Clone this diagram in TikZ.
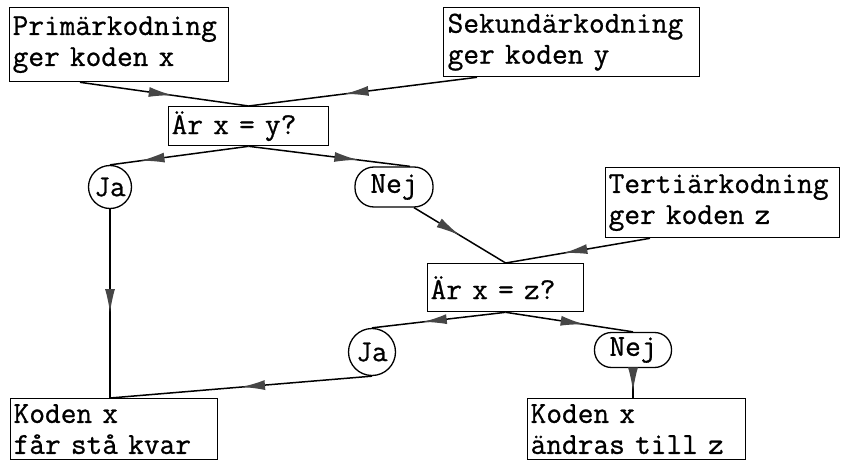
\documentclass[tikz,border=0pt]{standalone}
\usepackage{fontspec}
\setmonofont{Latin Modern Mono}[UprightFeatures={FakeBold=0.8}]
\usetikzlibrary{calc,arrows.meta,decorations.markings}
\begin{document}
\begin{tikzpicture}[x=1pt,y=-1pt,
  font=\fontsize{30.5}{31}\selectfont\ttfamily,
  box/.style={draw, line width=1.3pt, anchor=north west, inner xsep=3pt, inner ysep=0pt, align=left},
  ans/.style={draw, line width=1.3pt, circle, inner sep=0pt},
  nej/.style={draw, line width=1.3pt, rectangle, inner sep=0pt},
  conn/.style={line width=1.5pt, postaction={decorate},
    decoration={markings, mark=at position #1 with {\arrow[gray!55!black]{Latex[length=24pt,width=10pt]}}}}
]
\fill[white] (0,0) rectangle (841,460);
\useasboundingbox (0,0) rectangle (841,460);

\node[box, text width=213pt, minimum height=74pt] (P) at (9,7) {Primärkodning\\ger koden x};
\node[box, text width=248pt, minimum height=69pt, inner xsep=4pt] (S) at (443,7) {Sekundärkodning\\ger koden y};
\node[box, text width=154pt, minimum height=39pt] (Q1) at (168,106) {Är x = y?};
\node[ans, minimum size=43pt] (J1) at (110,187) {Ja};
\node[nej, rounded corners=19pt, minimum width=78pt, minimum height=40pt] (N1) at (394,187) {Nej};
\node[box, text width=228pt, minimum height=70pt] (T) at (605,167) {Tertiärkodning\\ger koden z};
\node[box, text width=150pt, minimum height=48pt] (Q2) at (427,263) {Är x = z?};
\node[ans, minimum size=47pt] (J2) at (372,352) {Ja};
\node[nej, rounded corners=17pt, minimum width=77pt, minimum height=35pt] (N2) at (633,350) {Nej};
\node[box, text width=201pt, minimum height=61pt] (K1) at (10,398) {Koden x\\får stå kvar};
\node[box, text width=212pt, minimum height=61pt] (K2) at (527,398) {Koden x\\ändras till z};

\coordinate (K1top) at (J1.south |- K1.north);

\draw[conn=0.55] ($(P.south west)+(71,0)$) -- (Q1.north);
\draw[conn=0.58] ($(S.south west)+(34,0)$) -- (Q1.north);
\draw[conn=0.78] (Q1.south) -- (J1.north);
\draw[conn=0.68] (Q1.south) -- ($(N1.north)+(16,0)$);
\draw[conn=0.5] ($(N1.south)+(20,0)$) -- (Q2.north);
\draw[conn=0.6] ($(T.south west)+(45,0)$) -- (Q2.north);
\draw[conn=0.62] (Q2.south) -- (J2.north);
\draw[conn=0.62] (Q2.south) -- (N2.north);
\draw[conn=0.78] (N2.south) -- (N2.south |- K2.north);
\draw[conn=0.55] (J1.south) -- (K1top);
\draw[conn=0.5] (J2.south) -- (K1top);
\end{tikzpicture}
\end{document}
